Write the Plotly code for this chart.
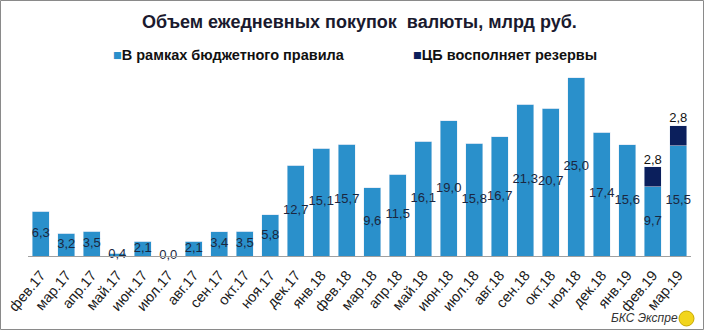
import plotly.graph_objects as go

months = ["фев.17", "мар.17", "апр.17", "май.17", "июн.17", "июл.17", "авг.17", "сен.17",
          "окт.17", "ноя.17", "дек.17", "янв.18", "фев.18", "мар.18", "апр.18", "май.18",
          "июн.18", "июл.18", "авг.18", "сен.18", "окт.18", "ноя.18", "дек.18", "янв.19",
          "фев.19", "мар.19"]
budget_rule = [6.3, 3.2, 3.5, 0.4, 2.1, 0.0, 2.1, 3.4, 3.5, 5.8, 12.7, 15.1, 15.7, 9.6, 11.5,
               16.1, 19.0, 15.8, 16.7, 21.3, 20.7, 25.0, 17.4, 15.6, 9.7, 15.5]
reserves = [None] * 24 + [2.8, 2.8]

BLUE = "#2A90CB"
NAVY = "#0B1F5C"
TXT = "#1B2740"
FONT = "Liberation Sans, Arial, sans-serif"


def fmt(v):
    return f"{v:.1f}".replace(".", ",")


fig = go.Figure()
fig.add_trace(go.Bar(x=months, y=budget_rule, marker_color=BLUE, name="В рамках бюджетного правила",
                     hoverinfo="skip"))
fig.add_trace(go.Bar(x=months, y=[r if r is not None else 0 for r in reserves], marker_color=NAVY,
                     name="ЦБ восполняет резервы", hoverinfo="skip"))

# labels for the blue part (centred in the bar)
fig.add_trace(go.Scatter(x=months, y=[v / 2 for v in budget_rule], mode="text",
                         text=[fmt(v) for v in budget_rule], textposition="middle center",
                         textfont=dict(family=FONT, size=13, color=TXT), hoverinfo="skip",
                         cliponaxis=False))
# labels for the reserves part (above stacked bar)
rx = [m for m, r in zip(months, reserves) if r is not None]
ry = [b + r for b, r in zip(budget_rule, reserves) if r is not None]
rt = [fmt(r) for r in reserves if r is not None]
fig.add_trace(go.Scatter(x=rx, y=ry, mode="text", text=rt, textposition="top center",
                         textfont=dict(family=FONT, size=13, color="#111111"), hoverinfo="skip",
                         cliponaxis=False))

fig.update_layout(
    width=704, height=330,
    margin=dict(l=28, r=13, t=70, b=74, autoexpand=False),
    barmode="stack", bargap=0.33,
    showlegend=False,
    plot_bgcolor="white", paper_bgcolor="white",
    font=dict(family=FONT, color=TXT),
    xaxis=dict(tickangle=-50, showline=True, linecolor="#A0A0A0", linewidth=1, automargin=False,
               range=[-0.5, len(months) - 0.5], ticklabelstandoff=4,
               ticks="", showgrid=False, tickfont=dict(family=FONT, size=14.5, color="#1a1a1a")),
    yaxis=dict(range=[0, 26.1], visible=False, showgrid=False, automargin=False),
)

# title and custom legend (pixel offsets from plot-area bottom-left corner: (28, 256))
fig.add_annotation(xref="paper", yref="paper", x=0, y=0, xanchor="center", yanchor="middle",
                   xshift=359 - 28, yshift=256 - 22, showarrow=False,
                   text="<b>Объем ежедневных покупок  валюты, млрд руб.</b>",
                   font=dict(family=FONT, size=18, color="#1a1a2e"))
fig.add_annotation(xref="paper", yref="paper", x=0, y=0, xanchor="left", yanchor="middle",
                   xshift=111 - 28, yshift=256 - 55, showarrow=False,
                   text=f"<span style='color:{BLUE}'>■</span><b>В рамках бюджетного правила</b>",
                   font=dict(family=FONT, size=14.5, color="#111111"))
fig.add_annotation(xref="paper", yref="paper", x=0, y=0, xanchor="left", yanchor="middle",
                   xshift=411 - 28, yshift=256 - 55, showarrow=False,
                   text=f"<span style='color:{NAVY}'>■</span><b>ЦБ восполняет резервы</b>",
                   font=dict(family=FONT, size=14.5, color="#111111"))
# watermark
fig.add_annotation(xref="paper", yref="paper", x=0, y=0, xanchor="right", yanchor="middle",
                   xshift=680 - 28, yshift=256 - 318, showarrow=False,
                   text="<i>БКС Экспре</i>", font=dict(family=FONT, size=12, color="#333333"))

shapes = [
    # border around the picture
    dict(type="rect", xref="paper", yref="paper", xsizemode="pixel", ysizemode="pixel",
         xanchor=0, yanchor=0, x0=0.5 - 28, x1=703.5 - 28, y0=256 - 0.5, y1=256 - 329.5,
         line=dict(color="#8A8A8A", width=1), fillcolor="rgba(0,0,0,0)"),
    # logo circle
    dict(type="circle", xref="paper", yref="paper", xsizemode="pixel", ysizemode="pixel",
         xanchor=0, yanchor=0, x0=679 - 28, x1=694 - 28, y0=256 - 311, y1=256 - 326,
         line=dict(color="#C9A800", width=1), fillcolor="#F2D51C"),
]
fig.update_layout(shapes=shapes)

fig.write_html("out.html")
